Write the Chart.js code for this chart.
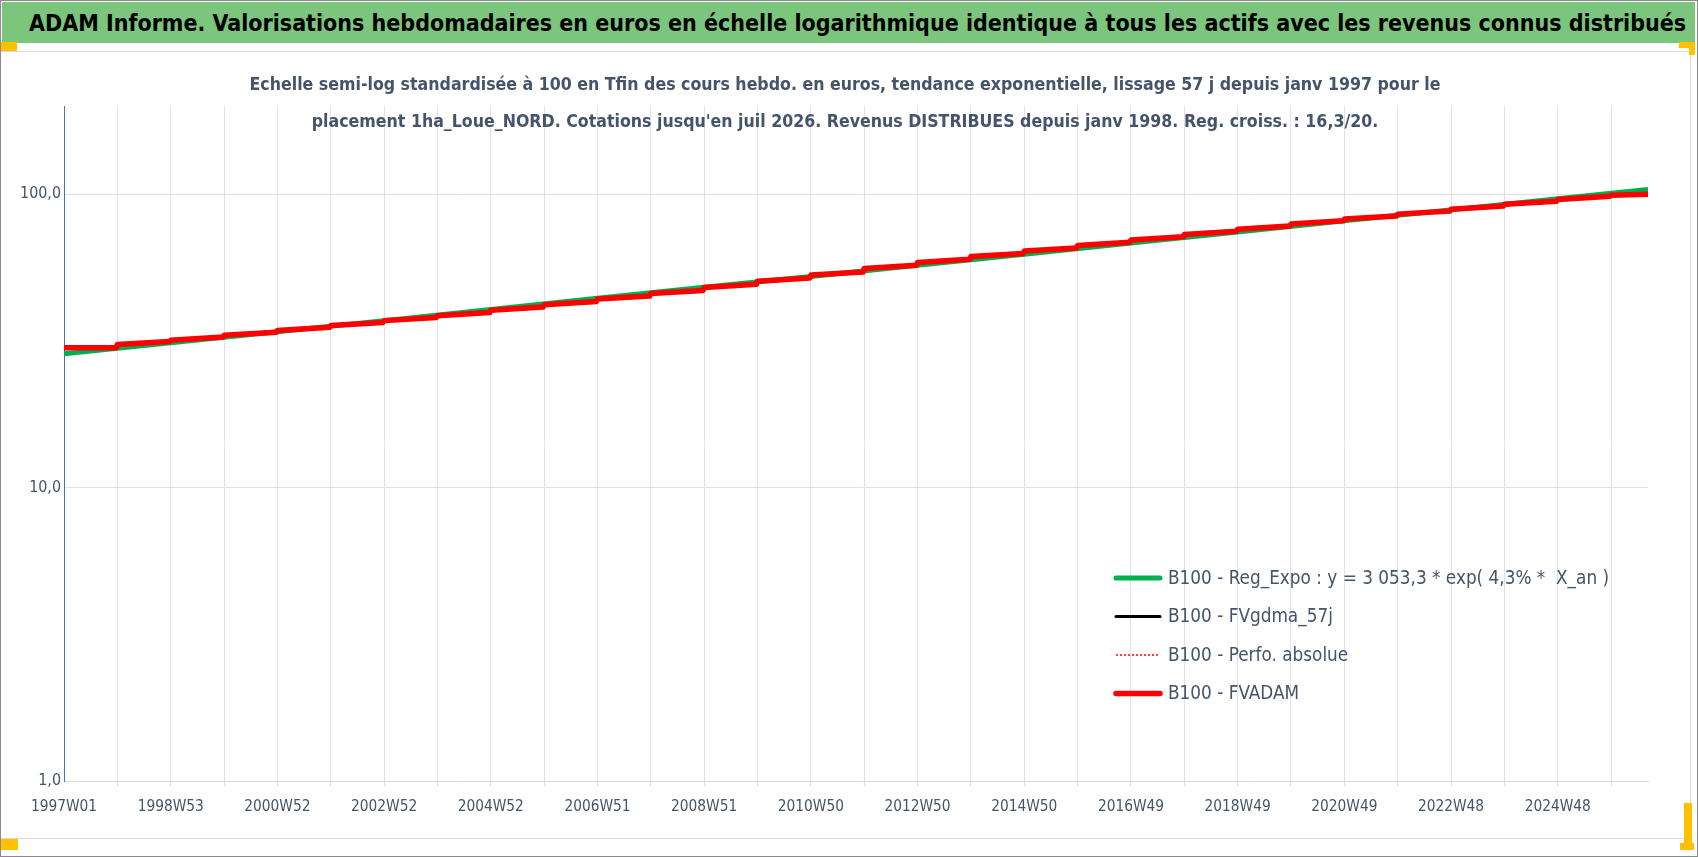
<!DOCTYPE html>
<html>
<head>
<meta charset="utf-8">
<script src="https://cdn.jsdelivr.net/npm/chart.js@4.4.1/dist/chart.umd.min.js"></script>
<style>
html, body { margin: 0; padding: 0; background: #fff; }
#page { position: relative; width: 1698px; height: 857px; overflow: hidden; background: #fff; }
#frame { position: absolute; left: 0; top: 0; width: 1698px; height: 857px; box-sizing: border-box; border: 1px solid #8a8a8a; }
#banner { position: absolute; left: 2px; top: 2px; width: 1693px; height: 41px; background: #7CC57C; display: flex; align-items: center; }
#banner span { margin-left: 27px; font-weight: bold; color: #000; white-space: nowrap; }
#box { position: absolute; left: 0; top: 51px; width: 1691px; height: 788px; box-sizing: border-box; border: 1px solid #d9d9d9; }
#wrap { position: absolute; left: 0; top: 51px; width: 1690px; height: 787px; }
.h { position: absolute; background: #FFC000; }
</style>
</head>
<body>
<div id="page">
  <div id="banner"><span id="bt">ADAM Informe. Valorisations hebdomadaires en euros en échelle logarithmique identique à tous les actifs avec les revenus connus distribués</span></div>
  <div id="box"></div>
  <div id="wrap"><canvas id="chart" width="1690" height="787"></canvas></div>
  <div class="h" style="left:0;top:42px;width:17px;height:9px"></div>
  <div class="h" style="left:1679px;top:42px;width:16px;height:6px"></div>
  <div class="h" style="left:1689px;top:42px;width:6px;height:13px"></div>
  <div class="h" style="left:0;top:839px;width:18px;height:11px"></div>
  <div class="h" style="left:1684px;top:803px;width:8px;height:47px"></div>
  <div class="h" style="left:1680px;top:843px;width:14px;height:7px"></div>
  <div id="frame"></div>
</div>
<script>
// week index 0 = 1997W01, one step = one week

// x axis labels (every 104 weeks)
const tickWeeks = [0, 104, 208, 312, 416, 520, 624, 728, 832, 936, 1040, 1144, 1248, 1352, 1456];
const tickLabels = ['1997W01', '1998W53', '2000W52', '2002W52', '2004W52', '2006W51', '2008W51', '2010W50',
                    '2012W50', '2014W50', '2016W49', '2018W49', '2020W49', '2022W48', '2024W48'];
const lastWeek = 1544;

// y axis labels
const yTicks = [1, 10, 100];

// series names
const seriesNames = [
    'B100 - Reg_Expo : y = 3 053,3 * exp( 4,3% *  X_an )',
    'B100 - FVgdma_57j',
    'B100 - Perfo. absolue',
    'B100 - FVADAM'
];

// green regression line (read at each label + end)
const regWeeks  = [0, 104, 208, 312, 416, 520, 624, 728, 832, 936, 1040, 1144, 1248, 1352, 1456, 1544];
const regValues = [28.6, 31.2, 34.0, 37.1, 40.5, 44.2, 48.2, 52.5, 57.3, 62.5, 68.2, 74.4, 81.2, 88.5, 96.6, 103.8];

// red FVADAM staircase (start / end of each year)
const fvWeeks = [0, 51, 52, 103, 104, 155, 156, 207, 208, 259, 260, 311, 312, 363, 364, 415,
                 416, 467, 468, 519, 520, 571, 572, 623, 624, 675, 676, 727, 728, 779, 780, 831,
                 832, 883, 884, 935, 936, 987, 988, 1039, 1040, 1091, 1092, 1143, 1144, 1195,
                 1196, 1247, 1248, 1299, 1300, 1351, 1352, 1403, 1404, 1455, 1456, 1507, 1508, 1544];
const fvValues = [30.0, 30.0, 30.75, 31.52, 31.81, 32.60, 33.05, 33.88, 34.35, 35.21, 35.70, 36.59,
                  37.10, 38.03, 38.56, 39.52, 40.27, 41.27, 42.06, 43.11, 43.93, 45.03, 45.88, 47.02,
                  48.16, 49.36, 50.55, 51.81, 53.06, 54.39, 55.85, 57.25, 58.56, 60.02, 61.35, 62.88,
                  64.07, 65.67, 66.91, 68.58, 69.89, 71.64, 73.00, 74.82, 76.01, 77.91, 79.24, 81.22,
                  82.35, 84.41, 85.59, 87.73, 88.94, 91.16, 92.43, 94.74, 96.06, 98.46, 99.2, 100.0];

const subtitle = [
    'Echelle semi-log standardisée à 100 en Tfin des cours hebdo. en euros, tendance exponentielle, lissage 57 j depuis janv 1997 pour le',
    "placement 1ha_Loue_NORD. Cotations jusqu'en juil 2026. Revenus DISTRIBUES depuis janv 1998. Reg. croiss. : 16,3/20."
];

const FAM = "'Liberation Sans Narrow', 'DejaVu Sans Condensed', sans-serif";

// font size so that a text sample has the width seen in the picture
function fitSize(text, weight, width) {
    const c = document.createElement('canvas').getContext('2d');
    c.font = weight + ' 100px ' + FAM;
    return Math.round(1000 * width / c.measureText(text).width) / 10;
}

const bannerSize = fitSize('ADAM Informe. Valorisations hebdomadaires', 'bold', 522);
const subSize = fitSize(subtitle[0], 'bold', 1192);
const xSize = fitSize('2008W51', 'normal', 66);
const ySize = fitSize('100,0', 'normal', 41);
const legSize = fitSize('B100 - Reg_Exp', 'normal', 133);

const bt = document.getElementById('bt');
bt.style.fontFamily = FAM;
bt.style.fontSize = bannerSize + 'px';

const pts = (xs, ys) => xs.map((x, i) => ({ x: x, y: ys[i] }));
const labelAt = {};
tickWeeks.forEach((w, i) => labelAt[w] = tickLabels[i]);

const gridCol = '#dfe2ea';
const textCol = '#44546A';

// legend drawn inside the plot, lower right
const insideLegend = {
    id: 'insideLegend',
    afterDatasetsDraw(chart, args, o) {
        const ctx = chart.ctx;
        ctx.save();
        chart.data.datasets.forEach(function(ds, i) {
            const y = o.y + i * o.gap;
            ctx.beginPath();
            ctx.strokeStyle = ds.borderColor;
            ctx.lineWidth = ds.legendWidth;
            ctx.setLineDash(ds.borderDash || []);
            ctx.lineCap = ds.borderDash ? 'butt' : 'round';
            ctx.moveTo(o.x, y);
            ctx.lineTo(o.x + o.len, y);
            ctx.stroke();
            ctx.setLineDash([]);
            ctx.fillStyle = textCol;
            ctx.font = legSize + 'px ' + FAM;
            ctx.textBaseline = 'middle';
            ctx.fillText(ds.label, o.x + o.len + o.space, y + 1);
        });
        ctx.restore();
    }
};

new Chart(document.getElementById('chart'), {
    type: 'line',
    data: {
        datasets: [{
            label: seriesNames[0],
            data: pts(regWeeks, regValues),
            borderColor: '#00B050',
            borderWidth: 5,
            legendWidth: 5,
            order: 3
        }, {
            label: seriesNames[1],
            data: pts(fvWeeks, fvValues),
            borderColor: '#000000',
            borderWidth: 2.5,
            legendWidth: 3,
            order: 2
        }, {
            label: seriesNames[2],
            data: pts(fvWeeks, fvValues),
            borderColor: '#FF0000',
            borderWidth: 1.5,
            borderDash: [2, 2],
            legendWidth: 1.5,
            order: 1
        }, {
            label: seriesNames[3],
            data: pts(fvWeeks, fvValues),
            borderColor: '#FF0000',
            borderWidth: 5.5,
            legendWidth: 5.5,
            order: 0
        }]
    },
    options: {
        responsive: false,
        devicePixelRatio: 1,
        animation: false,
        elements: { point: { radius: 0 }, line: { tension: 0, borderJoinStyle: 'round' } },
        layout: { padding: 0 },
        plugins: {
            legend: { display: false },
            tooltip: { enabled: false },
            title: {
                display: true,
                text: subtitle,
                color: textCol,
                font: { family: FAM, size: subSize, weight: 'bold', lineHeight: 37 / subSize },
                padding: { top: 16, bottom: -35 }
            },
            insideLegend: { x: 1116, y: 527, gap: 38.5, len: 44, space: 8 }
        },
        scales: {
            x: {
                type: 'linear',
                min: 0,
                max: lastWeek,
                afterBuildTicks: function(s) {
                    const t = [];
                    for (let w = 0; w < lastWeek; w += 52) t.push({ value: w });
                    s.ticks = t;
                },
                afterFit: function(s) { s.height = 57; },
                ticks: {
                    autoSkip: false,
                    maxRotation: 0,
                    minRotation: 0,
                    padding: 11,
                    color: textCol,
                    font: { family: FAM, size: xSize },
                    callback: function(v) { return labelAt[v] || ''; }
                },
                grid: {
                    color: function(c) { return c.tick && c.tick.value === 0 ? 'rgba(0,0,0,0)' : gridCol; },
                    tickLength: 6
                },
                border: { color: '#d9d9d9' }
            },
            y: {
                type: 'logarithmic',
                min: 1,
                max: 200,
                afterBuildTicks: function(s) { s.ticks = yTicks.map(v => ({ value: v })); },
                afterFit: function(s) { s.width = 64; },
                ticks: {
                    padding: 3,
                    color: textCol,
                    font: { family: FAM, size: ySize },
                    callback: function(v) { return v.toFixed(1).replace('.', ','); }
                },
                grid: { color: gridCol, drawTicks: false },
                border: { color: '#4472C4', width: 1 }
            },
            spacer: {
                position: 'right',
                display: true,
                afterFit: function(s) { s.width = 42; },
                ticks: { display: false },
                grid: { display: false },
                border: { display: false }
            }
        }
    },
    plugins: [insideLegend]
});
</script>
</body>
</html>
